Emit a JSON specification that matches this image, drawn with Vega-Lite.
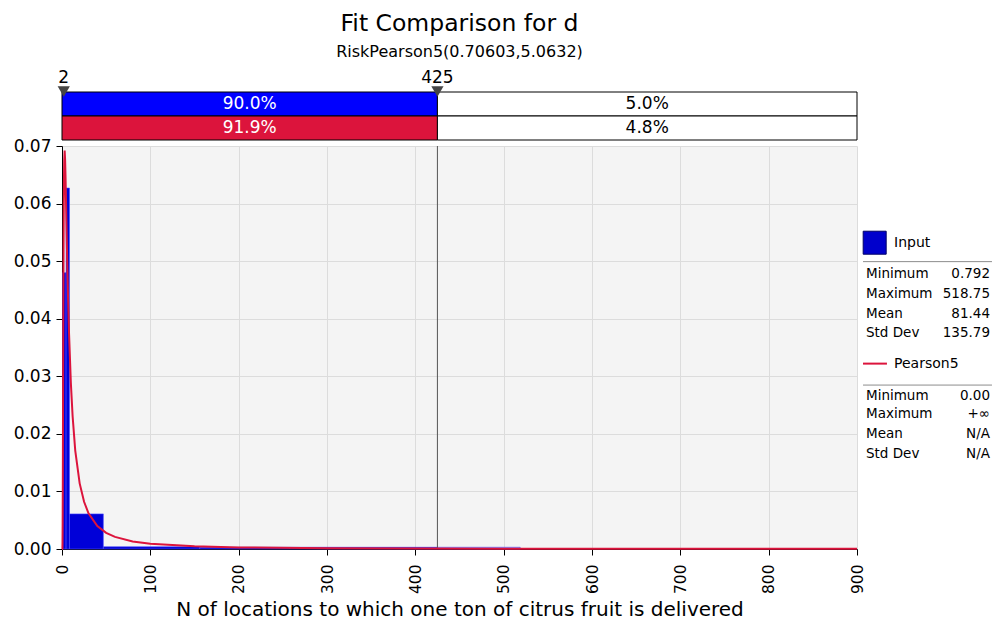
{
  "$schema": "https://vega.github.io/schema/vega-lite/v6.json",
  "padding": {"left": 13, "top": 11, "right": 0, "bottom": 0},
  "background": "#ffffff",
  "config": {
    "font": "DejaVu Sans",
    "view": {"stroke": null},
    "text": {"color": "#000000"}
  },
  "datasets": {
    "band": [
      {"series": "Input", "part": "inside", "seg": "Input inside", "start": 0, "end": 425, "pct": "90.0%"},
      {"series": "Input", "part": "outside", "seg": "Input outside", "start": 425, "end": 900, "pct": "5.0%"},
      {"series": "Pearson5", "part": "inside", "seg": "Pearson5 inside", "start": 0, "end": 425, "pct": "91.9%"},
      {"series": "Pearson5", "part": "outside", "seg": "Pearson5 outside", "start": 425, "end": 900, "pct": "4.8%"}
    ],
    "markers": [
      {"series": "Marker", "x": 2, "label": "2"},
      {"series": "Marker", "x": 425, "label": "425"}
    ],
    "hist": [
      {"lo": 0.792, "hi": 4.6, "density": 0.048, "kind": "body"},
      {"lo": 4.6, "hi": 8.5, "density": 0.0627, "kind": "body"},
      {"lo": 8.5, "hi": 46.8, "density": 0.0061, "kind": "body"},
      {"lo": 46.8, "hi": 156, "density": 0.0004, "kind": "body"},
      {"lo": 156, "hi": 258, "density": 0.0003, "kind": "body"},
      {"lo": 258, "hi": 425, "density": 0.0003, "kind": "body"},
      {"lo": 425, "hi": 518.75, "density": 0.0003, "kind": "tail"}
    ],
    "curve": [
      {"x": 0, "y": 0}, {"x": 0.3, "y": 0}, {"x": 0.4, "y": 0.00004}, {"x": 0.5, "y": 0.00032},
      {"x": 0.6, "y": 0.00126}, {"x": 0.75, "y": 0.00467}, {"x": 0.9, "y": 0.0105}, {"x": 1, "y": 0.0154},
      {"x": 1.1, "y": 0.0208}, {"x": 1.25, "y": 0.029}, {"x": 1.5, "y": 0.0418}, {"x": 1.75, "y": 0.052},
      {"x": 2, "y": 0.0595}, {"x": 2.25, "y": 0.0644}, {"x": 2.5, "y": 0.0674}, {"x": 3, "y": 0.0692},
      {"x": 3.5, "y": 0.0677}, {"x": 4, "y": 0.0646}, {"x": 5, "y": 0.0569}, {"x": 6, "y": 0.0493},
      {"x": 7, "y": 0.0428}, {"x": 8, "y": 0.0373}, {"x": 10, "y": 0.0289}, {"x": 12, "y": 0.0231},
      {"x": 15, "y": 0.0171}, {"x": 20, "y": 0.0114}, {"x": 25, "y": 0.0082}, {"x": 30, "y": 0.0062},
      {"x": 40, "y": 0.004}, {"x": 50, "y": 0.0028}, {"x": 60, "y": 0.0021}, {"x": 80, "y": 0.0013},
      {"x": 100, "y": 0.0009}, {"x": 150, "y": 0.00046}, {"x": 200, "y": 0.00028}, {"x": 300, "y": 0.00014},
      {"x": 400, "y": 0.000087}, {"x": 500, "y": 0.00006}, {"x": 600, "y": 0.000044}, {"x": 700, "y": 0.000034},
      {"x": 800, "y": 0.000027}, {"x": 900, "y": 0.000022}
    ],
    "cut": [{"x": 425}],
    "heads": [
      {"series": "Input", "line": 4.96},
      {"series": "Pearson5", "line": 11.16}
    ],
    "seps": [{"line": 5.93}, {"line": 12.26}],
    "stats": [
      {"series": "Input", "label": "Minimum", "value": "0.792", "line": 6.58},
      {"series": "Input", "label": "Maximum", "value": "518.75", "line": 7.57},
      {"series": "Input", "label": "Mean", "value": "81.44", "line": 8.6},
      {"series": "Input", "label": "Std Dev", "value": "135.79", "line": 9.59},
      {"series": "Pearson5", "label": "Minimum", "value": "0.00", "line": 12.82},
      {"series": "Pearson5", "label": "Maximum", "value": "+∞", "line": 13.74},
      {"series": "Pearson5", "label": "Mean", "value": "N/A", "line": 14.77},
      {"series": "Pearson5", "label": "Std Dev", "value": "N/A", "line": 15.79}
    ]
  },
  "bounds": "flush",
  "spacing": 6,
  "vconcat": [
    {
      "width": 795,
      "height": 72,
      "title": {
        "text": "Fit Comparison for d",
        "subtitle": "RiskPearson5(0.70603,5.0632)",
        "anchor": "middle",
        "frame": "group",
        "fontSize": 23.5,
        "fontWeight": "normal",
        "color": "#000000",
        "subtitleFontSize": 16,
        "subtitleColor": "#000000",
        "subtitlePadding": 9,
        "offset": 8
      },
      "layer": [
        {
          "data": {"name": "band"},
          "mark": {"type": "bar", "stroke": "#000000", "strokeWidth": 1},
          "encoding": {
            "x": {"field": "start", "type": "quantitative", "scale": {"domain": [0, 900], "nice": false, "zero": false}, "axis": null},
            "x2": {"field": "end"},
            "y": {"field": "series", "type": "nominal", "scale": {"domain": ["Marker", "Input", "Pearson5"], "paddingInner": 0, "paddingOuter": 0}, "axis": null},
            "color": {"field": "seg", "type": "nominal", "scale": {"domain": ["Input inside", "Input outside", "Pearson5 inside", "Pearson5 outside"], "range": ["#0000ff", "#ffffff", "#dc143c", "#ffffff"]}, "legend": null}
          }
        },
        {
          "data": {"name": "band"},
          "transform": [{"calculate": "(datum.start + datum.end) / 2", "as": "mid"}],
          "mark": {"type": "text", "fontSize": 17, "baseline": "middle"},
          "encoding": {
            "x": {"field": "mid", "type": "quantitative"},
            "y": {"field": "series", "type": "nominal"},
            "text": {"field": "pct"},
            "color": {"condition": {"test": "datum.part === 'inside'", "value": "#ffffff"}, "value": "#000000"}
          }
        },
        {
          "data": {"name": "markers"},
          "mark": {"type": "text", "fontSize": 17, "baseline": "middle"},
          "encoding": {
            "x": {"field": "x", "type": "quantitative"},
            "y": {"field": "series", "type": "nominal", "bandPosition": 0.4},
            "text": {"field": "label"}
          }
        },
        {
          "data": {"name": "markers"},
          "mark": {"type": "point", "shape": "triangle-down", "filled": true, "color": "#454545", "size": 150, "opacity": 1},
          "encoding": {
            "x": {"field": "x", "type": "quantitative"},
            "y": {"field": "series", "type": "nominal", "bandPosition": 0.98}
          }
        }
      ]
    },
    {
      "bounds": "flush",
      "spacing": 9,
      "hconcat": [
        {
          "width": 795,
          "height": 403,
          "view": {"fill": "#f4f4f4", "stroke": null},
          "layer": [
            {
              "data": {"name": "hist"},
              "mark": {"type": "bar", "stroke": "#4d4dff", "strokeWidth": 0.6},
              "encoding": {
                "x": {
                  "field": "lo", "type": "quantitative",
                  "scale": {"domain": [0, 900], "nice": false, "zero": false},
                  "axis": {
                    "values": [0, 100, 200, 300, 400, 500, 600, 700, 800, 900],
                    "labelAngle": -90, "labelAlign": "right", "labelBaseline": "middle",
                    "labelFontSize": 15.5, "labelPadding": 9, "labelColor": "#000000",
                    "tickSize": 6, "tickColor": "#000000", "domainColor": "#000000",
                    "gridColor": "#dcdcdc", "labelFlush": false, "labelOverlap": false,
                    "title": "N of locations to which one ton of citrus fruit is delivered",
                    "titleFontSize": 20, "titleFontWeight": "normal", "titleColor": "#000000", "titlePadding": 6
                  }
                },
                "x2": {"field": "hi"},
                "y": {
                  "field": "density", "type": "quantitative",
                  "scale": {"domain": [0, 0.07], "nice": false},
                  "axis": {
                    "values": [0, 0.01, 0.02, 0.03, 0.04, 0.05, 0.06, 0.07],
                    "format": ".2f", "labelFontSize": 17, "labelColor": "#000000", "labelPadding": 5,
                    "tickSize": 6, "tickColor": "#000000", "domainColor": "#000000",
                    "gridColor": "#dcdcdc", "labelFlush": false, "labelOverlap": false, "title": null
                  }
                },
                "y2": {"datum": 0},
                "color": {"condition": {"test": "datum.kind === 'tail'", "value": "#9c9cf0"}, "value": "#0000d8"}
              }
            },
            {
              "data": {"name": "cut"},
              "mark": {"type": "rule", "color": "#555555", "strokeWidth": 1},
              "encoding": {"x": {"field": "x", "type": "quantitative"}}
            },
            {
              "data": {"name": "curve"},
              "mark": {"type": "line", "color": "#dc143c", "strokeWidth": 2},
              "encoding": {
                "x": {"field": "x", "type": "quantitative"},
                "y": {"field": "y", "type": "quantitative"}
              }
            }
          ]
        },
        {
          "width": 124,
          "height": 403,
          "layer": [
            {
              "data": {"name": "seps"},
              "mark": {"type": "rule", "color": "#8c8c8c", "strokeWidth": 1},
              "encoding": {
                "x": {"datum": -0.024, "type": "quantitative", "scale": {"domain": [0, 1], "nice": false, "zero": false}, "axis": null},
                "x2": {"datum": 1.016},
                "y": {"field": "line", "type": "quantitative", "scale": {"domain": [0, 20.667], "nice": false, "zero": false, "reverse": true}, "axis": null}
              }
            },
            {
              "data": {"name": "heads"},
              "transform": [{"filter": "datum.series === 'Input'"}],
              "mark": {"type": "point", "shape": "square", "filled": true, "color": "#0000cc", "stroke": "#000066", "strokeWidth": 1, "size": 529, "opacity": 1},
              "encoding": {
                "x": {"datum": 0.07, "type": "quantitative"},
                "y": {"field": "line", "type": "quantitative"}
              }
            },
            {
              "data": {"name": "heads"},
              "transform": [{"filter": "datum.series === 'Pearson5'"}],
              "mark": {"type": "rule", "color": "#dc143c", "strokeWidth": 2},
              "encoding": {
                "x": {"datum": -0.024, "type": "quantitative"},
                "x2": {"datum": 0.169},
                "y": {"field": "line", "type": "quantitative"}
              }
            },
            {
              "data": {"name": "heads"},
              "mark": {"type": "text", "fontSize": 14, "align": "left", "baseline": "middle"},
              "encoding": {
                "x": {"datum": 0.226, "type": "quantitative"},
                "y": {"field": "line", "type": "quantitative"},
                "text": {"field": "series"}
              }
            },
            {
              "data": {"name": "stats"},
              "mark": {"type": "text", "fontSize": 13.5, "align": "left", "baseline": "middle"},
              "encoding": {
                "x": {"datum": 0, "type": "quantitative"},
                "y": {"field": "line", "type": "quantitative"},
                "text": {"field": "label"}
              }
            },
            {
              "data": {"name": "stats"},
              "mark": {"type": "text", "fontSize": 13.5, "align": "right", "baseline": "middle"},
              "encoding": {
                "x": {"datum": 1, "type": "quantitative"},
                "y": {"field": "line", "type": "quantitative"},
                "text": {"field": "value"}
              }
            }
          ]
        }
      ]
    }
  ]
}
